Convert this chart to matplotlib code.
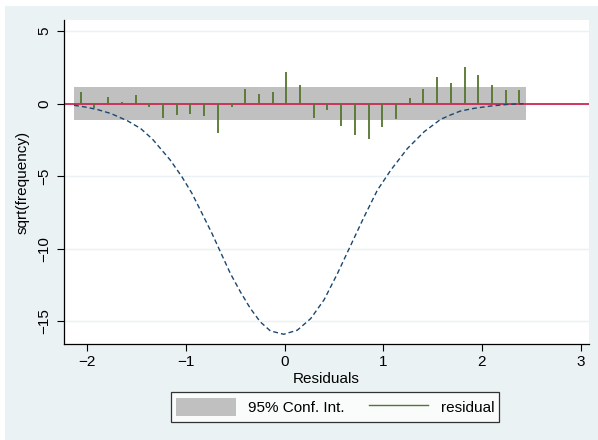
import matplotlib
matplotlib.use("Agg")
import matplotlib.pyplot as plt
from matplotlib.patches import Rectangle, Patch
from matplotlib.lines import Line2D

plt.rcParams["font.family"] = ["Liberation Sans", "DejaVu Sans"]

# ---- data ----
bin_mid = [-2.068, -1.929, -1.790, -1.651, -1.512, -1.373, -1.234, -1.095, -0.956,
           -0.817, -0.678, -0.539, -0.400, -0.261, -0.122, 0.017, 0.156, 0.295,
           0.434, 0.573, 0.712, 0.851, 0.990, 1.129, 1.268, 1.407, 1.546, 1.685,
           1.824, 1.963, 2.102, 2.241, 2.380]
residual = [0.78, -0.34, 0.43, 0.09, 0.57, -0.23, -0.99, -0.81, -0.69,
            -0.85, -2.03, -0.23, 0.99, 0.66, 0.78, 2.20, 1.26, -0.99,
            -0.46, -1.56, -2.17, -2.46, -1.59, -1.03, 0.37, 0.99, 1.86, 1.40,
            2.50, 1.95, 1.26, 0.92, 0.92]
ci_x = [-2.138, 2.447]
ci_low = [-1.14, -1.14]
ci_high = [1.12, 1.12]

curve_x = [-2.135, -2.03, -1.90, -1.76, -1.59, -1.46, -1.34, -1.16, -1.042, -0.94,
           -0.838, -0.737, -0.652, -0.551, -0.449, -0.348, -0.247, -0.145, -0.01,
           0.128, 0.264, 0.40, 0.535, 0.67, 0.805, 0.94, 1.076, 1.245, 1.414,
           1.58, 1.68, 1.78, 1.92, 2.09, 2.26, 2.42]
curve_y = [-0.12, -0.23, -0.41, -0.69, -1.20, -1.72, -2.45, -3.89, -5.04, -6.18,
           -7.56, -8.94, -10.2, -11.69, -12.96, -14.1, -15.03, -15.65, -15.88,
           -15.6, -14.8, -13.5, -11.7, -9.75, -7.8, -5.96, -4.58, -3.09, -1.94,
           -1.09, -0.79, -0.52, -0.33, -0.17, -0.06, -0.01]

xticks = [-2, -1, 0, 1, 2, 3]
yticks = [-15, -10, -5, 0, 5]

BG = "#eaf2f3"
NAVY = "#1a476f"
GREEN = "#55752f"
BAND = "#c0c0c0"
RED = "#cc2952"
FS = 11

fig = plt.figure(figsize=(5.98, 4.40), dpi=100, facecolor="white")
fig.patches.append(Rectangle((5/598, 0), 1, (440-6)/440, transform=fig.transFigure,
                             facecolor=BG, edgecolor="none", zorder=-10))

ax = fig.add_axes([64/598, (440-344)/440, (589-64)/598, (344-20)/440])
ax.set_facecolor("white")
ax.set_xlim(-2.237, 3.085)
ax.set_ylim(-16.55, 5.75)

for yv in yticks:
    ax.axhline(yv, color=BG, lw=1.0, zorder=0)

ax.fill_between(ci_x, ci_low, ci_high, color=BAND, lw=0, zorder=1)
ax.axhline(0, color=RED, lw=1.3, zorder=2)
ax.vlines(bin_mid, 0, residual, color=GREEN, lw=1.3, zorder=3)
ax.plot(curve_x, curve_y, color=NAVY, lw=1.0, ls=(0, (3.5, 2.2)), zorder=4)

for s in ["top", "right"]:
    ax.spines[s].set_visible(False)
for s in ["left", "bottom"]:
    ax.spines[s].set_color("black")
    ax.spines[s].set_linewidth(0.9)

ax.set_xticks(xticks)
ax.set_yticks(yticks)
ax.set_xticklabels([str(t).replace("-", "\u2212") for t in xticks])
ax.set_yticklabels([str(t).replace("-", "\u2212") for t in yticks], rotation=90, va="center")
ax.tick_params(axis="both", direction="out", length=5, width=0.8, labelsize=FS, color="black")
ax.tick_params(axis="x", pad=3)
ax.tick_params(axis="y", pad=4)

ax.set_xlabel("Residuals", fontsize=FS, labelpad=2)
ax.set_ylabel("sqrt(frequency)", fontsize=FS, labelpad=6)

handles = [Patch(facecolor=BAND, edgecolor="none", label="95% Conf. Int."),
           Line2D([0], [0], color=GREEN, lw=1.0, label="residual")]
leg = fig.legend(handles=handles, loc="center", bbox_to_anchor=(335/598, (440-407)/440),
                 ncol=2, frameon=True, fancybox=False, edgecolor="black", fontsize=FS,
                 handlelength=3.9, handleheight=1.5, columnspacing=1.6, handletextpad=0.8,
                 borderpad=0.35, borderaxespad=0)
leg.get_frame().set_linewidth(0.9)
leg.get_frame().set_facecolor("white")

fig.savefig("out.png", dpi=100, facecolor=fig.get_facecolor())
